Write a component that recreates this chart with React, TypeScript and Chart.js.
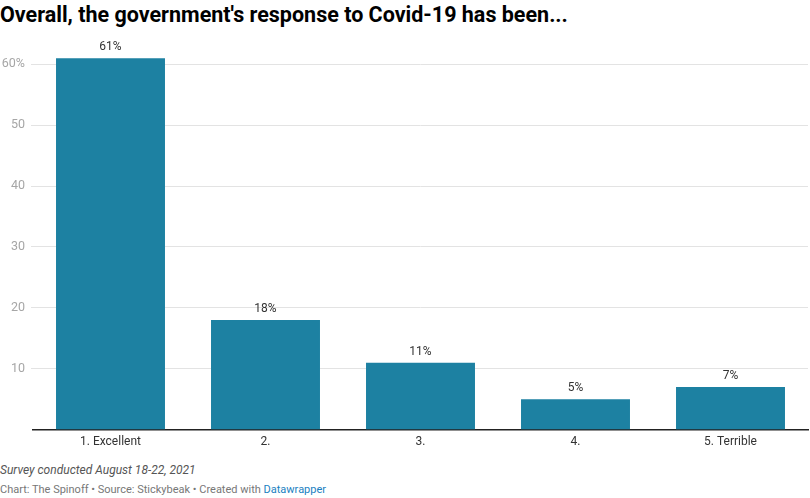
import React, { useEffect, useRef } from "react";
import { Chart, registerables } from "chart.js";

Chart.register(...registerables);

const categories = ["1. Excellent", "2.", "3.", "4.", "5. Terrible"];
const values = [61, 18, 11, 5, 7];
const yTicks = [10, 20, 30, 40, 50, 60];

const FONT = "Roboto, 'Noto Sans', sans-serif";

const valueLabels = {
  id: "valueLabels",
  afterDatasetsDraw(chart: any) {
    const ctx = chart.ctx;
    const meta = chart.getDatasetMeta(0);
    ctx.save();
    ctx.font = `12px ${FONT}`;
    ctx.fillStyle = "#333333";
    ctx.textAlign = "center";
    ctx.textBaseline = "bottom";
    meta.data.forEach((bar: any, i: number) => {
      ctx.fillText(values[i] + "%", bar.x, bar.y - 5);
    });
    ctx.restore();
  },
};

export default function App() {
  const ref = useRef<HTMLCanvasElement | null>(null);
  useEffect(() => {
    document.body.style.margin = "0";
    const chart = new Chart(ref.current as HTMLCanvasElement, {
      type: "bar",
      data: {
        labels: categories,
        datasets: [
          {
            data: values,
            backgroundColor: "#1d81a2",
            barPercentage: 0.703,
            categoryPercentage: 1,
          },
        ],
      },
      options: {
        animation: false,
        responsive: false,
        maintainAspectRatio: false,
        layout: { padding: { top: 38, right: 2, left: 0, bottom: 0 } },
        plugins: { legend: { display: false }, tooltip: { enabled: false } },
        scales: {
          x: {
            grid: { display: false, drawTicks: false },
            border: { display: true, color: "#222222", width: 1.5 },
            ticks: { color: "#333333", font: { family: FONT, size: 12 }, padding: 5 },
          },
          y: {
            min: 0,
            max: 64,
            afterBuildTicks: (scale: any) => {
              scale.ticks = yTicks.map((v) => ({ value: v }));
            },
            afterFit: (scale: any) => {
              scale.width = 33;
            },
            grid: { color: "#e3e3e3", tickLength: 2, tickColor: "#e3e3e3" },
            border: { display: false },
            ticks: {
              color: "#a6a6a6",
              font: { family: FONT, size: 12.5 },
              padding: 6,
              callback: (v: any) => (v === 60 ? v + "%" : String(v)),
            },
          },
        },
      },
      plugins: [valueLabels],
    });
    return () => chart.destroy();
  }, []);

  return (
    <div style={{ position: "relative", width: 810, height: 498, fontFamily: FONT, background: "#fff", overflow: "hidden" }}>
      <div style={{ position: "absolute", left: 0, top: 2, fontSize: 21.5, fontWeight: 700, color: "#000", whiteSpace: "nowrap", lineHeight: "26px" }}>
        Overall, the government's response to Covid-19 has been...
      </div>
      <canvas ref={ref} width={810} height={452} style={{ position: "absolute", left: 0, top: 2, width: 810, height: 452 }} />
      <div style={{ position: "absolute", left: 0, top: 462, fontSize: 12, fontStyle: "italic", color: "#555", whiteSpace: "nowrap", lineHeight: "16px" }}>
        Survey conducted August 18-22, 2021
      </div>
      <div style={{ position: "absolute", left: 0, top: 482, fontSize: 11, color: "#777", whiteSpace: "nowrap", lineHeight: "16px" }}>
        Chart: The Spinoff • Source: Stickybeak • Created with <span style={{ color: "#1a7fc1" }}>Datawrapper</span>
      </div>
    </div>
  );
}
